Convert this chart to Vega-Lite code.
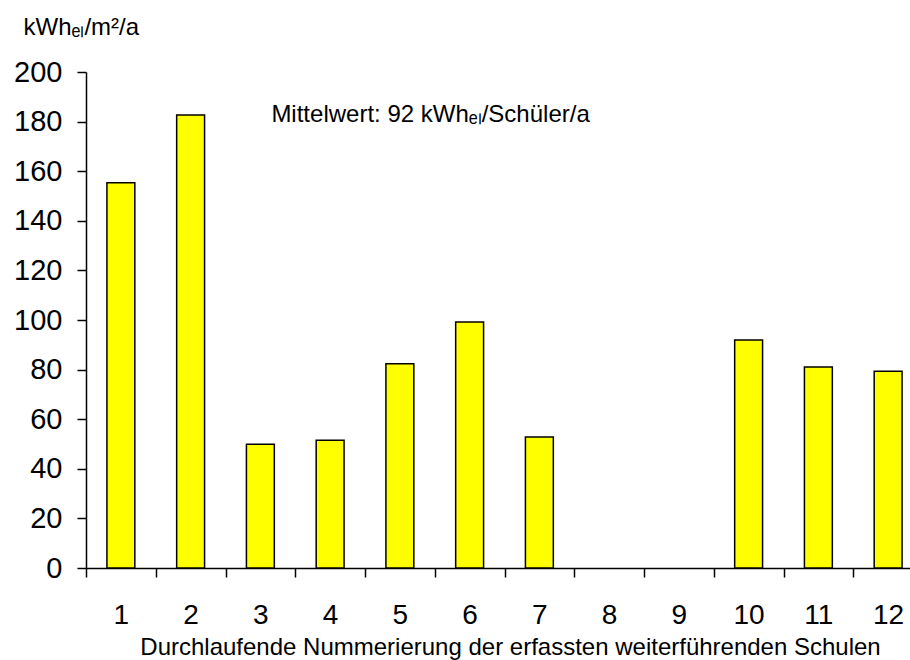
{
  "$schema": "https://vega.github.io/schema/vega-lite/v6.json",
  "autosize": {"type": "none"},
  "width": 824,
  "height": 496,
  "padding": {"left": 86, "top": 72, "right": 0, "bottom": 92},
  "background": "white",
  "config": {
    "view": {"stroke": null},
    "font": "Liberation Sans",
    "axis": {"domainColor": "black", "tickColor": "black", "labelColor": "black", "titleColor": "black", "domainWidth": 1.5, "tickWidth": 1.5, "grid": false, "titleFontWeight": "normal", "labelFont": "Liberation Sans", "titleFont": "Liberation Sans"}
  },
  "layer": [
    {
      "data": {"values": [
        {"nr": "1", "value": 155.3},
        {"nr": "2", "value": 182.7},
        {"nr": "3", "value": 49.9},
        {"nr": "4", "value": 51.5},
        {"nr": "5", "value": 82.4},
        {"nr": "6", "value": 99.2},
        {"nr": "7", "value": 52.8},
        {"nr": "8", "value": null},
        {"nr": "9", "value": null},
        {"nr": "10", "value": 91.9},
        {"nr": "11", "value": 81.0},
        {"nr": "12", "value": 79.3}
      ]},
      "mark": {"type": "bar", "fill": "#FFFF00", "stroke": "black", "strokeWidth": 1.5, "width": {"band": 0.4}},
      "encoding": {
        "x": {
          "field": "nr", "type": "ordinal", "sort": null,
          "scale": {"domain": ["1","2","3","4","5","6","7","8","9","10","11","12"], "range": [0, 837], "paddingInner": 0, "paddingOuter": 0},
          "axis": {
            "title": "Durchlaufende Nummerierung der erfassten weiterführenden Schulen",
            "titleFontSize": 24, "titleBaseline": "alphabetic", "titleY": 86, "titleX": 424, "titleAlign": "center", "titleAnchor": null,
            "labelFontSize": 28, "labelAngle": 0, "labelBaseline": "alphabetic", "tickSize": 9, "labelPadding": 46,
            "tickBand": "extent"
          }
        },
        "y": {
          "field": "value", "type": "quantitative",
          "scale": {"domain": [0, 200], "nice": false},
          "axis": {
            "values": [0,20,40,60,80,100,120,140,160,180,200],
            "title": "kWhₑₗ/m²/a", "titleAngle": 0, "titleAlign": "left", "titleBaseline": "alphabetic", "titleX": -63, "titleY": -38, "titleFontSize": 24,
            "labelFontSize": 29, "tickSize": 9, "labelPadding": 15, "labelBaseline": "middle"
          }
        }
      }
    },
    {
      "mark": {"type": "rule", "color": "black", "strokeWidth": 1.5},
      "encoding": {"y": {"datum": 200}}
    },
    {
      "data": {"values": [{"nr": "3", "y": 180, "label": "Mittelwert: 92 kWhₑₗ/Schüler/a"}]},
      "mark": {"type": "text", "align": "left", "baseline": "alphabetic", "fontSize": 24, "dx": 11, "color": "black", "font": "Liberation Sans"},
      "encoding": {
        "x": {"field": "nr", "type": "ordinal"},
        "y": {"field": "y", "type": "quantitative"},
        "text": {"field": "label"}
      }
    }
  ]
}
